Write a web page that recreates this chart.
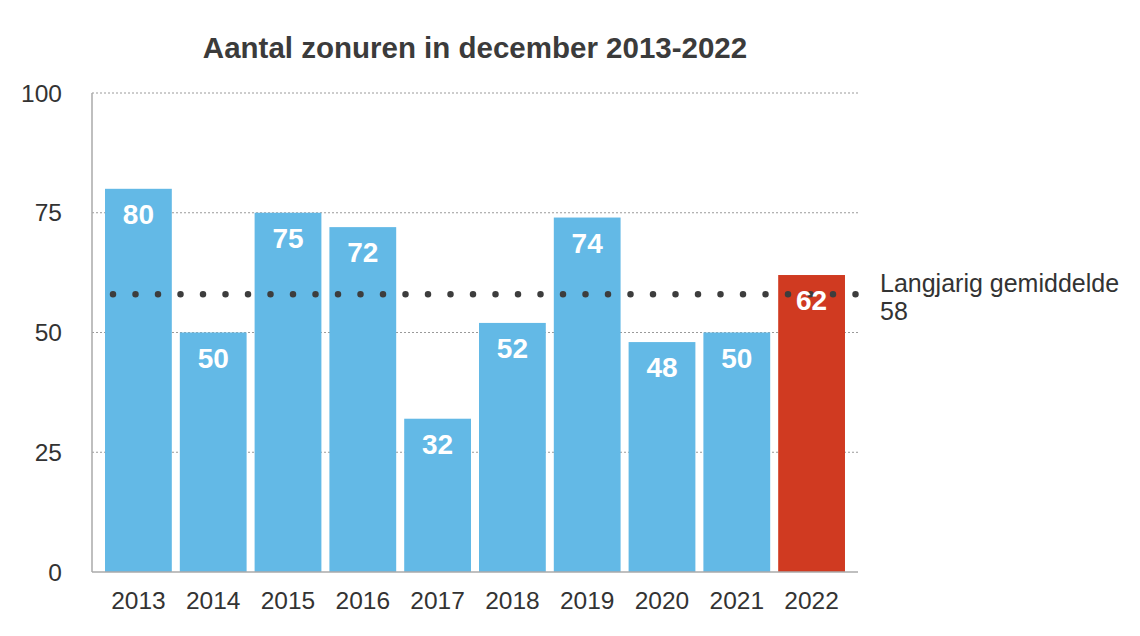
<!DOCTYPE html>
<html>
<head>
<meta charset="utf-8">
<script src="https://cdn.jsdelivr.net/npm/d3@7"></script>
<style>
  body { margin: 0; background: #fff; }
  svg text { font-family: "Liberation Sans", Arial, Helvetica, sans-serif; }
</style>
</head>
<body>
<script>
const width = 1140;
const height = 636;

// data
const years = ["2013", "2014", "2015", "2016", "2017", "2018", "2019", "2020", "2021", "2022"];
const sunHours = [80, 50, 75, 72, 32, 52, 74, 48, 50, 62];
const average = 58;
const yTicks = [0, 25, 50, 75, 100];
const title = "Aantal zonuren in december 2013-2022";
const avgLabel = ["Langjarig gemiddelde", "58"];

const margin = { top: 93, right: 282, bottom: 64, left: 92 };

const svg = d3
  .select("body")
  .append("svg")
  .attr("width", width)
  .attr("height", height);

const x = d3
  .scaleBand()
  .domain(years)
  .range([margin.left, width - margin.right])
  .paddingInner(0.107)
  .paddingOuter(0.174);

const y = d3
  .scaleLinear()
  .domain([0, 100])
  .range([height - margin.bottom, margin.top]);

// gridlines
svg
  .append("g")
  .selectAll("line")
  .data(yTicks.filter((d) => d > 0))
  .join("line")
  .attr("x1", margin.left)
  .attr("x2", width - margin.right)
  .attr("y1", (d) => y(d))
  .attr("y2", (d) => y(d))
  .attr("stroke", "#9a9a9a")
  .attr("stroke-width", 1)
  .attr("stroke-dasharray", "2,2");

// y tick labels
svg
  .append("g")
  .selectAll("text")
  .data(yTicks)
  .join("text")
  .attr("x", 62)
  .attr("y", (d) => y(d))
  .attr("dy", "0.35em")
  .attr("text-anchor", "end")
  .attr("font-size", 24.5)
  .attr("fill", "#333")
  .text((d) => d);

// bars
svg
  .append("g")
  .selectAll("rect")
  .data(sunHours)
  .join("rect")
  .attr("x", (d, i) => x(years[i]))
  .attr("y", (d) => y(d))
  .attr("width", x.bandwidth())
  .attr("height", (d) => y(0) - y(d))
  .attr("fill", (d, i) => (years[i] === "2022" ? "#d03a21" : "#63b9e6"));

// axes lines
svg
  .append("line")
  .attr("x1", margin.left)
  .attr("x2", margin.left)
  .attr("y1", y(100))
  .attr("y2", y(0))
  .attr("stroke", "#aaa")
  .attr("stroke-width", 1.5);
svg
  .append("line")
  .attr("x1", margin.left)
  .attr("x2", width - margin.right)
  .attr("y1", y(0))
  .attr("y2", y(0))
  .attr("stroke", "#aaa")
  .attr("stroke-width", 1.5);

// x tick labels
svg
  .append("g")
  .selectAll("text")
  .data(years)
  .join("text")
  .attr("x", (d) => x(d) + x.bandwidth() / 2)
  .attr("y", 609)
  .attr("text-anchor", "middle")
  .attr("font-size", 24.5)
  .attr("fill", "#333")
  .text((d) => d);

// average dotted line
svg
  .append("line")
  .attr("x1", 113)
  .attr("x2", 856)
  .attr("y1", y(average))
  .attr("y2", y(average))
  .attr("stroke", "#3d3d3d")
  .attr("stroke-width", 6.5)
  .attr("stroke-linecap", "round")
  .attr("stroke-dasharray", "0,22.5");

// value labels
svg
  .append("g")
  .selectAll("text")
  .data(sunHours)
  .join("text")
  .attr("x", (d, i) => x(years[i]) + x.bandwidth() / 2)
  .attr("y", (d) => y(d) + 35)
  .attr("text-anchor", "middle")
  .attr("font-size", 28)
  .attr("font-weight", "bold")
  .attr("fill", "#fff")
  .text((d) => d);

// average label
const avg = svg
  .append("text")
  .attr("x", 880)
  .attr("y", y(average) - 2)
  .attr("font-size", 25)
  .attr("fill", "#333");
avg
  .selectAll("tspan")
  .data(avgLabel)
  .join("tspan")
  .attr("x", 880)
  .attr("dy", (d, i) => (i === 0 ? 0 : 28))
  .text((d) => d);

// title
svg
  .append("text")
  .attr("x", 475)
  .attr("y", 58)
  .attr("text-anchor", "middle")
  .attr("font-size", 29.5)
  .attr("font-weight", "bold")
  .attr("fill", "#3b3b3b")
  .text(title);
</script>
</body>
</html>
